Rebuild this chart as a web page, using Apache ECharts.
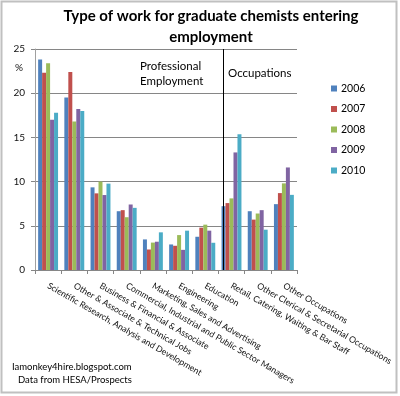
<!DOCTYPE html>
<html><head><meta charset="utf-8">
<script src="https://cdn.jsdelivr.net/npm/echarts@6/dist/echarts.min.js"></script>
<style>html,body{margin:0;padding:0;background:#fff}#c{width:400px;height:396px}</style>
</head><body><div id="c"></div>
<script>
const categories = [
  "Scientific Research, Analysis and Development",
  "Other & Associate & Technical Jobs",
  "Business & Financial & Associate",
  "Commercial, Industrial and Public Sector Managers",
  "Marketing, Sales and Advertising",
  "Engineering",
  "Education",
  "Retail, Catering, Waiting & Bar Staff",
  "Other Clerical & Secretarial Occupations",
  "Other Occupations"
];
const years = ["2006", "2007", "2008", "2009", "2010"];
const v2006 = [23.8, 19.5, 9.35, 6.65, 3.46, 2.89, 3.76, 7.22, 6.65, 7.45];
const v2007 = [22.3, 22.4, 8.67, 6.77, 2.32, 2.74, 4.79, 7.57, 5.7, 8.7];
const v2008 = [23.4, 16.8, 10.0, 5.97, 3.1, 3.95, 5.13, 8.1, 6.39, 9.8];
const v2009 = [17.0, 18.2, 8.48, 7.41, 3.2, 2.28, 4.45, 13.3, 6.77, 11.6];
const v2010 = [17.8, 18.0, 9.77, 7.03, 4.26, 4.45, 3.08, 15.35, 4.56, 8.5];
const yTicks = [0, 5, 10, 15, 20, 25];
const colors = ["#4F81BD", "#C0504D", "#9BBB59", "#8064A2", "#4BACC6"];
const seriesValues = [v2006, v2007, v2008, v2009, v2010];

const FONT = "Lato, 'Open Sans', sans-serif";
const chart = echarts.init(document.getElementById('c'), null, {renderer: 'canvas'});
chart.setOption({
  animation: false,
  color: colors,
  title: {
    text: "Type of work for graduate chemists entering\nemployment",
    left: 206, top: 1, textAlign: 'center',
    textStyle: {fontFamily: FONT, fontWeight: 'bold', fontSize: 15, lineHeight: 21, color: '#000'}
  },
  legend: {
    orient: 'vertical', left: 326, top: 78, itemGap: 9.5,
    itemWidth: 6, itemHeight: 6, icon: 'rect',
    textStyle: {fontFamily: FONT, fontSize: 10.5, color: '#000', padding: [0,0,0,-1]},
    data: years
  },
  grid: {left: 35, right: 103, top: 49, bottom: 126, containLabel: false, outerBoundsMode: 'none'},
  xAxis: {
    type: 'category', data: categories,
    axisLine: {lineStyle: {color: '#868686'}},
    axisTick: {show: true, length: 4, lineStyle: {color: '#868686'}},
    axisLabel: {rotate: -30, margin: 15, fontFamily: FONT, fontSize: 8.7, color: '#111', interval: 0, hideOverlap: false}
  },
  yAxis: {
    type: 'value', min: 0, max: 25, interval: 5,
    axisLine: {show: true, lineStyle: {color: '#a0a0a0'}},
    axisTick: {show: true, length: 4, lineStyle: {color: '#868686'}},
    splitLine: {lineStyle: {color: '#868686'}},
    axisLabel: {fontFamily: FONT, fontSize: 10, color: '#111', margin: 10,
      formatter: v => yTicks.includes(v) ? String(v) : ''}
  },
  graphic: [
    {type: 'rect', shape: {x: 1.5, y: 1.5, width: 395, height: 391}, style: {fill: 'none', stroke: '#c0c0c0', lineWidth: 2}, silent: true},
    {type: 'text', left: 15, top: 63, style: {text: '%', font: '10px ' + FONT, fill: '#111'}},
    {type: 'text', left: 140, top: 59, style: {text: 'Professional\nEmployment', font: '11.5px ' + FONT, lineHeight: 15, fill: '#000'}},
    {type: 'text', left: 228, top: 67, style: {text: 'Occupations', font: '11.5px ' + FONT, fill: '#000'}},
    {type: 'text', left: 12, top: 362, style: {text: 'Iamonkey4hire.blogspot.com', font: '9.5px ' + FONT, fill: '#000'}},
    {type: 'text', left: 18, top: 375, style: {text: 'Data from HESA/Prospects', font: '9.5px ' + FONT, fill: '#000'}}
  ],
  series: years.map((y, i) => ({
    name: y, type: 'bar', data: seriesValues[i],
    barGap: '0%', barCategoryGap: '24%',
    markLine: i === 0 ? {
      silent: true, symbol: 'none', label: {show: false},
      lineStyle: {color: '#000', type: 'solid', width: 1},
      data: [{xAxis: 6.5}]
    } : undefined
  }))
});
</script></body></html>
